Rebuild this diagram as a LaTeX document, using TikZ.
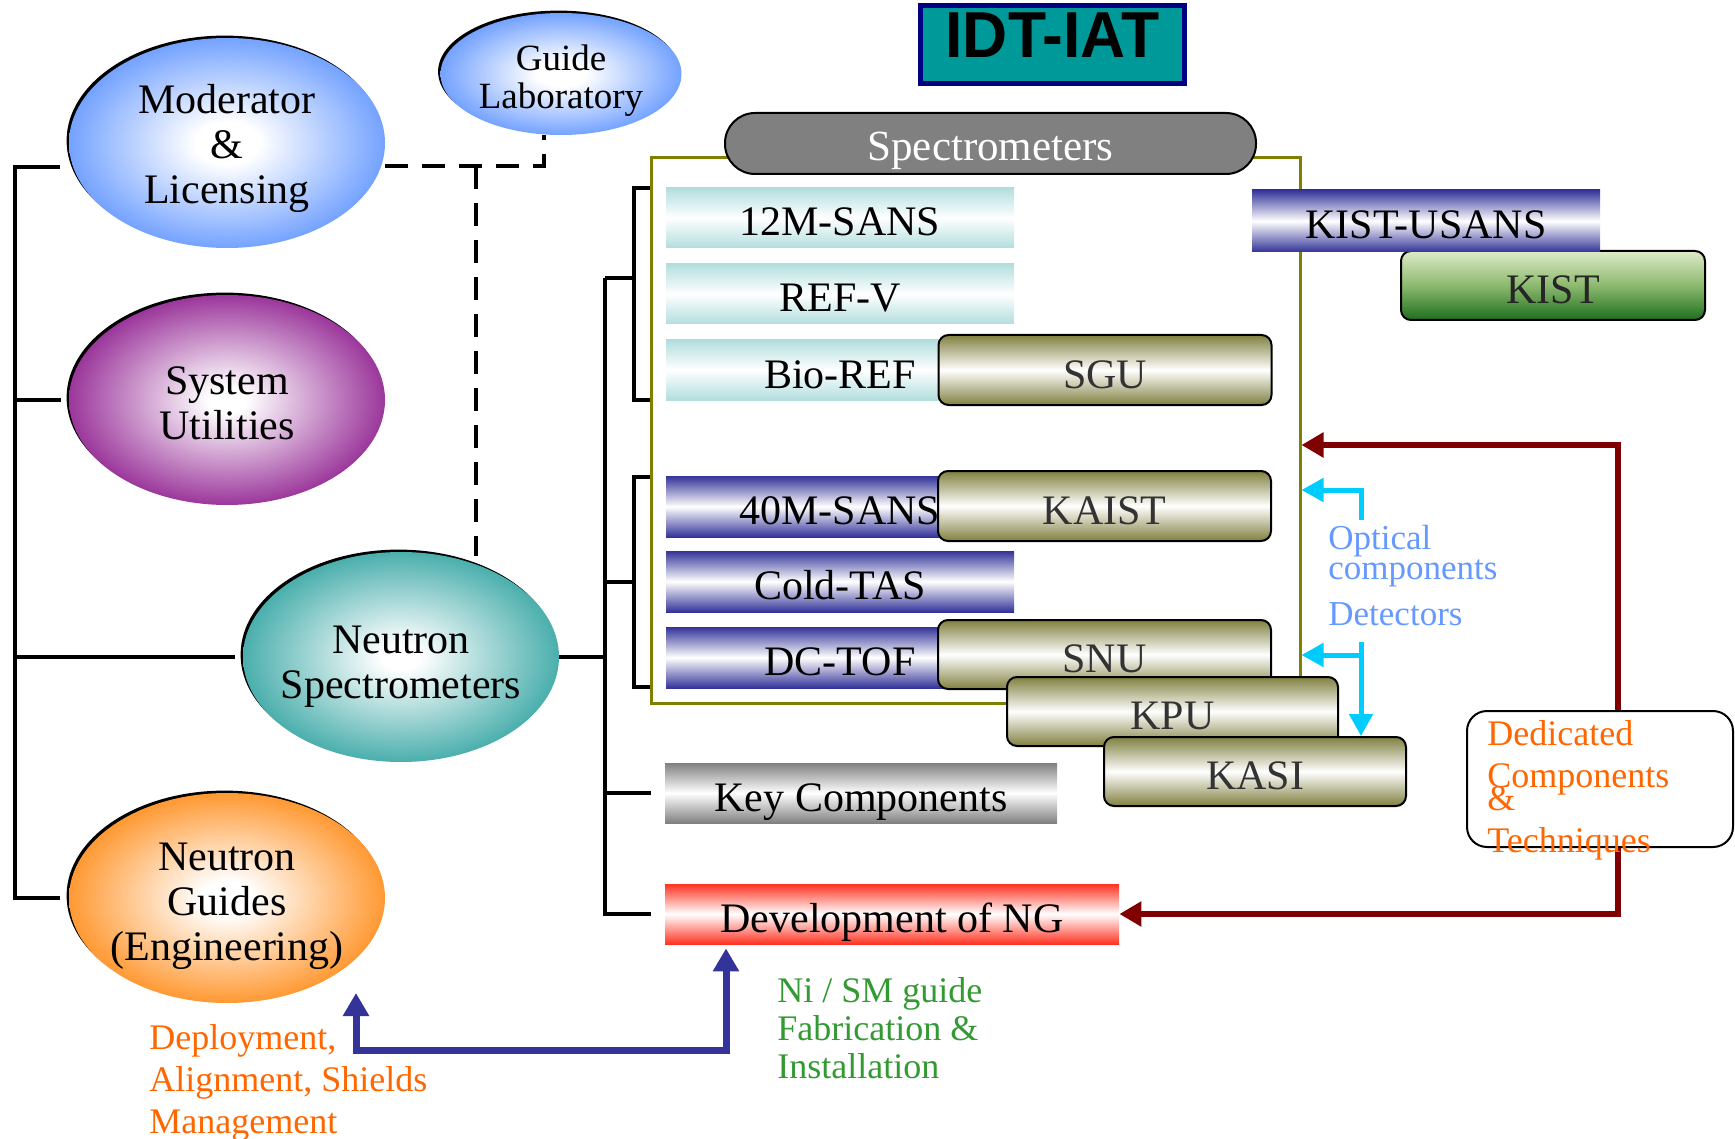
\documentclass[tikz,border=0pt]{standalone}
\usepackage{fontspec}
\setmainfont{Liberation Serif}
\newfontfamily\idtfont{Liberation Sans}
\usetikzlibrary{shapes.geometric,shadows,arrows.meta}
\definecolor{cblue}{RGB}{102,153,255}
\definecolor{cpurple}{RGB}{128,0,128}
\definecolor{cteal}{RGB}{25,153,150}
\definecolor{corange}{RGB}{255,153,51}
\definecolor{ccyanbox}{RGB}{178,222,222}
\definecolor{cnavy}{RGB}{51,51,153}
\definecolor{colive}{RGB}{128,128,64}
\definecolor{cgraybox}{RGB}{128,128,128}
\definecolor{credbox}{RGB}{255,51,34}
\definecolor{cgreentop}{RGB}{222,235,200}
\definecolor{cgreenmid}{RGB}{140,185,110}
\definecolor{cgreenbot}{RGB}{30,110,30}
\definecolor{cdarkred}{RGB}{128,0,0}
\definecolor{ccyan}{RGB}{0,204,255}
\definecolor{cbluearrow}{RGB}{51,51,153}
\definecolor{ctextorange}{RGB}{255,102,0}
\definecolor{ctextgreen}{RGB}{51,153,51}
\definecolor{ctextblue}{RGB}{102,153,255}
\definecolor{cidt}{RGB}{0,153,153}
\definecolor{cidtborder}{RGB}{0,0,128}
\definecolor{cframe}{RGB}{128,128,0}
\pgfdeclareradialshading{radblue}{\pgfpoint{0bp}{0bp}}{color(0bp)=(white); color(5bp)=(white); color(27bp)=(cblue); color(50bp)=(cblue)}
\pgfdeclareradialshading{radpurple}{\pgfpoint{0bp}{0bp}}{color(0bp)=(white); color(3bp)=(white); color(31bp)=(cpurple); color(50bp)=(cpurple)}
\pgfdeclareradialshading{radteal}{\pgfpoint{0bp}{0bp}}{color(0bp)=(white); color(3bp)=(white); color(31bp)=(cteal); color(50bp)=(cteal)}
\pgfdeclareradialshading{radorange}{\pgfpoint{0bp}{0bp}}{color(0bp)=(white); color(4bp)=(white); color(25bp)=(corange); color(50bp)=(corange)}
\tikzset{
  ellnode/.style={ellipse, inner sep=-25pt, align=center, minimum width=158pt, minimum height=105pt,
    font=\fontsize{21}{22.5}\selectfont,
    general shadow={fill=black, shadow xshift=-1.2pt, shadow yshift=1.2pt}},
  barbox/.style={rectangle, inner sep=0pt, minimum width=174pt, minimum height=30pt,
    font=\fontsize{21}{22}\selectfont, text height=18pt, text depth=0pt},
  cyanbar/.style={barbox, top color=ccyanbox, bottom color=ccyanbox, middle color=white},
  navybar/.style={barbox, top color=cnavy, bottom color=cnavy, middle color=white},
  olivebox/.style={rectangle, rounded corners=5pt, draw=black, line width=1pt, inner sep=0pt,
    minimum width=166.5pt, minimum height=35pt, top color=colive, bottom color=colive,
    middle color=white, font=\fontsize{21}{22}\selectfont, text=black!80,
    text height=18pt, text depth=0pt},
  tree/.style={line width=2pt, black},
  dashline/.style={line width=2pt, black, dash pattern=on 11.5pt off 7pt},
  redarrow/.style={line width=3pt, cdarkred, -{Triangle[length=11pt,width=12pt]}},
  cyanarrow/.style={line width=2.5pt, ccyan, -{Triangle[length=11pt,width=11.5pt]}},
  bluearrow/.style={line width=3.5pt, cbluearrow,
    {Triangle[length=11.5pt,width=12.5pt]}-{Triangle[length=11.5pt,width=12.5pt]}},
  annot/.style={inner sep=0pt, anchor=base west, align=left}
}
\begin{document}
\begin{tikzpicture}[x=0.5pt,y=-0.5pt]
\useasboundingbox (0,0) rectangle (1735,1139);

% ---------- left tree ----------
\coordinate (t1) at (15,167);
\coordinate (t2) at (15,400);
\coordinate (t3) at (15,657);
\coordinate (t4) at (15,898);
\coordinate (s1) at (60,167);
\coordinate (s2) at (61,400);
\coordinate (s3) at (235,657);
\coordinate (s4) at (60,898);
\draw[tree] (s1) -- (t1) -- (t4) -- (s4);
\draw[tree] (t2) -- (s2);
\draw[tree] (t3) -- (s3);

% ---------- dashed links ----------
\coordinate (d1) at (385,166);
\coordinate (d2) at (544,166);
\coordinate (d3) at (476,166);
\coordinate (d4) at (476,556);

% ---------- ellipses ----------
\node[ellnode, shade, shading=radblue] (mod) at (227,143)
  {\rule{0pt}{20pt}Moderator\\\&\\Licensing};
\node[ellnode, shade, shading=radblue, minimum width=120.5pt, minimum height=61pt,
      font=\fontsize{18.5}{19}\selectfont] (guide) at (561,74)
  {\rule{0pt}{19pt}Guide\\Laboratory};
\node[ellnode, shade, shading=radpurple] (sys) at (227,400)
  {\rule{0pt}{17.5pt}System\\Utilities};
\node[ellnode, shade, shading=radteal] (ns) at (401,657)
  {\rule{0pt}{23.5pt}Neutron\\Spectrometers};
\node[ellnode, shade, shading=radorange] (ng) at (227,898)
  {\rule{0pt}{22.5pt}Neutron\\Guides\\(Engineering)};

\draw[dashline] (d1) -- (d2) -- (d2 |- guide.south);
\draw[dashline] (d3) -- (d4);

% ---------- right tree ----------
\coordinate (r0) at (605,657);
\coordinate (rtp) at (605,278);
\coordinate (rb) at (605,914);
\coordinate (rk) at (605,793);
\coordinate (rm) at (605,582);
\coordinate (q1) at (634,278);
\coordinate (q2) at (634,582);
\draw[tree] (ns.east) -- (r0);
\draw[tree] (rtp) -- (rb) -- (651,914);
\draw[tree] (rk) -- (651,793);
\draw[tree] (rtp) -- (q1);
\draw[tree] (rm) -- (q2);
\draw[tree] (651,188) -- (634,188) -- (634,400) -- (651,400);
\draw[tree] (651,477) -- (634,477) -- (634,687) -- (651,687);

% ---------- title ----------
\node[rectangle, fill=cidt, draw=cidtborder, line width=2.5pt, inner sep=0pt,
      minimum width=132pt, minimum height=39pt, text depth=9.5pt,
      font=\fontsize{32.5}{34}\selectfont] (idt) at (1052.5,44.5)
      {\scalebox{0.96}[1]{\idtfont\bfseries IDT-IAT}};

% ---------- spectrometers frame ----------
\node[rectangle, draw=cframe, line width=1.5pt, inner sep=0pt,
      minimum width=324.5pt, minimum height=272.5pt] (frame) at (975.5,430.5) {};
\node[rectangle, rounded corners=15pt, fill=cgraybox, draw=black, line width=1pt, inner sep=0pt,
      minimum width=265.5pt, minimum height=30.5pt, text=white, text height=17.5pt, text depth=0pt,
      font=\fontsize{21.5}{22}\selectfont] (spec) at (990.5,143.5) {Spectrometers};

\node[cyanbar] (sans12) at (840,218) {12M-SANS};
\node[cyanbar] (refv) at (840,294) {REF-V};
\node[cyanbar] (bioref) at (840,370) {Bio-REF};
\node[olivebox] (sgu) at (1105,370) {SGU};

\node[navybar, minimum height=30.5pt] (sans40) at (840,506.5) {40M-SANS};
\node[olivebox] (kaist) at (1104.5,506) {KAIST};
\node[navybar, minimum height=30.5pt] (coldtas) at (840,581.5) {Cold-TAS};
\node[navybar, minimum height=30.5pt] (dctof) at (840,657.5) {DC-TOF};
\node[olivebox, minimum height=34.5pt] (snu) at (1104.5,654.5) {SNU};
\node[olivebox, minimum width=165.5pt, minimum height=34.5pt] (kpu) at (1172.5,711.5) {KPU};
\node[olivebox, minimum width=151pt, minimum height=34.5pt] (kasi) at (1255,771.5) {KASI};

\node[rectangle, rounded corners=5pt, draw=black, line width=1pt, inner sep=0pt,
      minimum width=152pt, minimum height=34.5pt, top color=cgreentop, bottom color=cgreenbot,
      middle color=cgreenmid, font=\fontsize{21}{22}\selectfont, text=black!85,
      text height=18pt, text depth=0pt] (kist) at (1553,285.5) {KIST};
\node[navybar, minimum height=31pt] (usans) at (1426,221) {KIST-USANS};

\node[barbox, minimum width=196pt, top color=cgraybox, bottom color=cgraybox, middle color=white] (kc) at (861,793) {Key Components};
\node[barbox, minimum width=227pt, top color=credbox, bottom color=credbox, middle color=white] (dev) at (892,914) {Development of NG};

% ---------- dedicated box & red arrows ----------
\node[rectangle, rounded corners=10pt, draw=black, line width=1pt, fill=white, inner sep=0pt,
      minimum width=133pt, minimum height=68pt] (ded) at (1600,779) {};
\coordinate (rtop) at (1618,445);
\coordinate (rbot) at (1618,914);
\draw[redarrow] (ded.north -| rtop) -- (rtop) -- (frame.east |- rtop);
\draw[redarrow] (ded.south -| rbot) -- (rbot) -- (dev.east);

% ---------- cyan arrows ----------
\coordinate (c1) at (1361,520);
\coordinate (c1b) at (1361,490);
\coordinate (c2) at (1361,642);
\coordinate (c2b) at (1361,655);
\draw[cyanarrow] (c1) -- (c1b) -- (frame.east |- c1b);
\draw[cyanarrow] (c2) -- (c2 |- kasi.north);
\draw[cyanarrow] (c2b) -- (frame.east |- c2b);

% ---------- blue arrow ----------
\coordinate (bt) at (356,993);
\coordinate (b1) at (356,1050);
\coordinate (b2) at (726,1050);
\draw[bluearrow] (bt) -- (b1) -- (b2) -- ([yshift=-2pt]dev.south -| b2);

% ---------- annotations (anchored at the last line's baseline) ----------
\node[annot, text=ctextorange, font=\fontsize{18}{21}\selectfont] (dedtext) at (1487,852)
  {Dedicated\\Components\\[-9.5pt]\&\\Techniques};
\node[annot, text=ctextblue, font=\fontsize{17.5}{13}\selectfont] (opt) at (1328,579)
  {Optical\\components};
\node[annot, text=ctextblue, font=\fontsize{17.5}{13}\selectfont] (det) at (1328,625) {Detectors};
\node[annot, text=ctextorange, font=\fontsize{18}{21}\selectfont] (deploy) at (149,1133)
  {Deployment,\\Alignment, Shields\\Management};
\node[annot, text=ctextgreen, font=\fontsize{18}{19}\selectfont] (nism) at (777,1078)
  {Ni / SM guide\\Fabrication \&\\Installation};
\end{tikzpicture}
\end{document}
